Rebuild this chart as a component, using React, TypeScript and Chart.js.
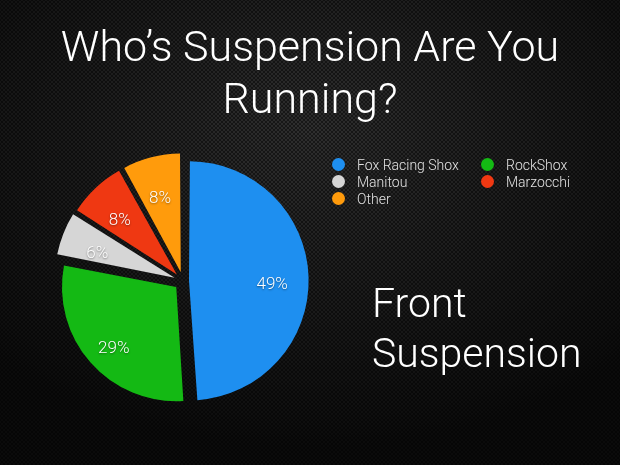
import { useEffect, useRef } from 'react'
import { ArcElement, Chart, PieController } from 'chart.js'

Chart.register(PieController, ArcElement)

const brands = ['Fox Racing Shox', 'RockShox', 'Manitou', 'Marzocchi', 'Other']
const shares = [49, 29, 6, 8, 8]
const sliceColors = ['#1e8ff0', '#14b914', '#d6d6d6', '#ef3812', '#ff9b0c']

// chart.js draws an arc shifted by offset / 4
const sliceOffset = [24, 36, 36, 36, 36]
const LABEL_DROP = 7 // the original pie is tilted, labels sit a little lower

const FONT = 'Roboto, "Liberation Sans", Arial, sans-serif'

// percent labels sitting inside each slice
const sliceLabels = {
  id: 'sliceLabels',
  afterDatasetsDraw(chart: Chart) {
    const ctx = chart.ctx
    const meta = chart.getDatasetMeta(0)
    ctx.save()
    ctx.font = `300 17px ${FONT}`
    ctx.textAlign = 'center'
    ctx.textBaseline = 'middle'
    ctx.fillStyle = '#ffffff'
    ctx.shadowColor = 'rgba(0,0,0,0.45)'
    ctx.shadowBlur = 2
    ctx.shadowOffsetY = 1
    meta.data.forEach((el: any, i: number) => {
      const { x, y, startAngle, endAngle, outerRadius } = el.getProps(
        ['x', 'y', 'startAngle', 'endAngle', 'outerRadius'],
        true
      )
      const mid = (startAngle + endAngle) / 2
      const r = outerRadius * 0.73 + sliceOffset[i] / 4
      ctx.fillText(
        `${shares[i]}%`,
        x + Math.cos(mid) * r,
        y + Math.sin(mid) * r + LABEL_DROP
      )
    })
    ctx.restore()
  },
}

export default function App() {
  const canvasRef = useRef<HTMLCanvasElement>(null)
  const chartRef = useRef<Chart<'pie'> | null>(null)

  useEffect(() => {
    if (!canvasRef.current) return
    chartRef.current?.destroy()

    chartRef.current = new Chart(canvasRef.current, {
      type: 'pie',
      data: {
        labels: brands,
        datasets: [
          {
            data: shares,
            backgroundColor: sliceColors,
            borderWidth: 0,
            offset: sliceOffset,
            radius: 114,
          },
        ],
      },
      options: {
        responsive: false,
        animation: false,
        events: [],
        layout: { padding: { left: 0, right: 254, top: 150, bottom: 53 } },
        plugins: {
          legend: { display: false },
          tooltip: { enabled: false },
        },
      },
      plugins: [sliceLabels],
    })

    return () => {
      chartRef.current?.destroy()
      chartRef.current = null
    }
  }, [])

  const dotMesh =
    'radial-gradient(circle, rgba(0,0,0,0.6) 0 1.1px, transparent 1.7px) 0 0 / 4px 4px, ' +
    'radial-gradient(circle, rgba(0,0,0,0.6) 0 1.1px, transparent 1.7px) 2px 2px / 4px 4px, ' +
    'radial-gradient(ellipse 75% 70% at 50% 28%, #3c3c3c 0%, #262626 45%, #0e0e0e 100%)'

  return (
    <div
      style={{
        position: 'fixed',
        left: 0,
        top: 0,
        width: 620,
        height: 465,
        overflow: 'hidden',
        background: dotMesh,
        fontFamily: FONT,
        fontWeight: 300,
        color: '#fff',
      }}
    >
      <div
        style={{
          position: 'absolute',
          left: 0,
          top: 20,
          width: 620,
          textAlign: 'center',
          fontSize: 43,
          lineHeight: '52px',
        }}
      >
        Who’s Suspension Are You
        <br />
        Running?
      </div>

      <canvas
        ref={canvasRef}
        width={620}
        height={465}
        style={{ position: 'absolute', left: 0, top: 0 }}
      />

      {brands.map((b, i) => (
        <div
          key={b}
          style={{
            position: 'absolute',
            left: 332 + (i % 2) * 149,
            top: 156 + Math.floor(i / 2) * 17,
            height: 17,
            display: 'flex',
            alignItems: 'center',
            fontSize: 14,
            color: '#e2e2e2',
            whiteSpace: 'nowrap',
          }}
        >
          <span
            style={{
              width: 13,
              height: 13,
              borderRadius: '50%',
              background: sliceColors[i],
              marginRight: 12,
              flexShrink: 0,
            }}
          />
          {b}
        </div>
      ))}

      <div
        style={{
          position: 'absolute',
          left: 372,
          top: 278,
          fontSize: 41,
          lineHeight: '50px',
        }}
      >
        Front
        <br />
        Suspension
      </div>
    </div>
  )
}
